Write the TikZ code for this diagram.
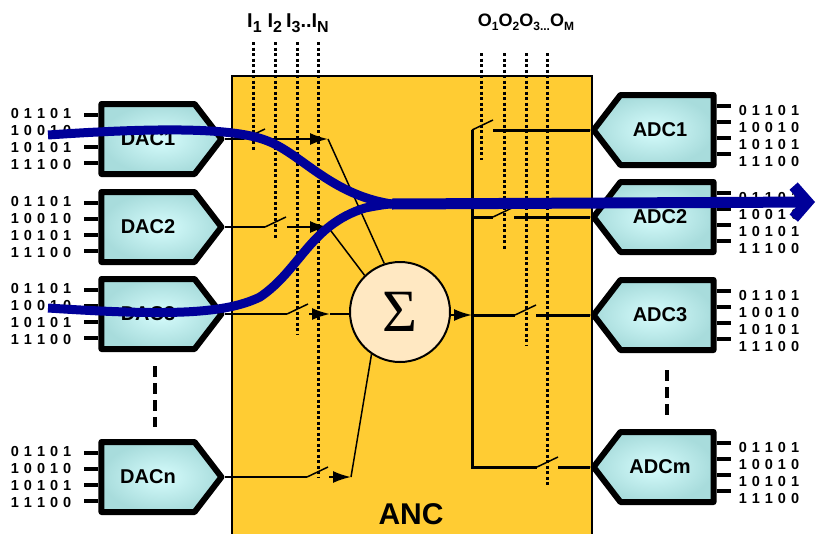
\documentclass[tikz,border=0pt]{standalone}
\usepackage{fontspec}
\setmainfont{Liberation Sans}
\newfontfamily\sigmafont{Liberation Serif}
\usetikzlibrary{calc, positioning}
\usetikzlibrary{shapes.symbols}
\usetikzlibrary{arrows.meta}

\definecolor{ancyellow}{RGB}{255,204,51}
\definecolor{blockcore}{RGB}{214,252,252}
\definecolor{blockedge}{RGB}{168,220,220}
\definecolor{sumfill}{RGB}{255,232,194}
\definecolor{flowblue}{RGB}{0,0,153}

\newcommand{\bitword}[5]{#1\hspace{5pt}#2\hspace{5pt}#3\hspace{5pt}#4\hspace{5pt}#5}
\newcommand{\bitblock}{\bitword01101\\\bitword10010\\\bitword10101\\\bitword11100}
\newcommand{\insub}[1]{\raisebox{-5pt}{\fontsize{16}{16}\selectfont #1}}
\newcommand{\outsub}[1]{\raisebox{-4pt}{\fontsize{12}{12}\selectfont #1}}

\tikzset{
  conv/.style={signal, draw, line width=6pt, line join=round, shade,
    inner color=blockcore, outer color=blockedge,
    minimum width=120pt, minimum height=70pt, signal pointer angle=105,
    inner sep=0pt, font=\fontsize{20}{20}\selectfont\bfseries},
  dac/.style={conv, signal to=east},
  adc/.style={conv, signal to=west},
  bits/.style={align=left, inner sep=0pt, font=\fontsize{14.5}{17}\selectfont\bfseries},
  ancbox/.style={draw, line width=2pt, fill=ancyellow, minimum width=360pt,
    minimum height=470pt, inner sep=0pt},
  wire/.style={line width=2pt},
  buswire/.style={line width=3pt},
  blade/.style={line width=1.5pt},
  feed/.style={line width=1.5pt},
  chan/.style={line width=3pt, dash pattern=on 3pt off 2.5pt},
  gapmark/.style={line width=3.5pt, dash pattern=on 11pt off 6pt},
  tick/.style={line width=3.5pt},
  into/.style={-{Latex[length=18pt,width=12pt]}},
  flow/.style={draw=flowblue, line width=9pt, line join=round},
}

\begin{document}
\begin{tikzpicture}[x=1pt,y=-1pt]
\clip (0,0) rectangle (818,533);

\node[ancbox, anchor=north west] (anc) at (231,75) {};
\node[font=\fontsize{30}{30}\selectfont\bfseries] (anclabel) at (411,514) {ANC};

% control lines
\node[anchor=base, font=\fontsize{20}{20}\selectfont\bfseries] (inputs) at (288,27)
    {I\insub{1}\hspace{6pt}I\insub{2}\hspace{4pt}I\insub{3}..I\insub{N}};
\node[anchor=base, font=\fontsize{18}{18}\selectfont\bfseries] (outputs) at (526,26)
    {O\outsub{1}O\outsub{2}O\outsub{3}\outsub{...}O\outsub{M}};
\foreach \x/\yend in {253/150, 275/238, 297/335, 318/478}
    \draw[chan] (\x,42) -- (\x,\yend);
\foreach \x/\yend in {481/160, 504/250, 526/345, 547/487}
    \draw[chan] (\x,53) -- (\x,\yend);

% converters
\node[dac] (dac1) at (148,139) {DAC1};
\node[dac] (dac2) at (148,227) {DAC2};
\node[dac] (dac3) at (148,314) {DAC3};
\node[dac] (dacn) at (148,477) {DACn};
\node[adc] (adc1) at (667,130) {ADC1\kern14pt};
\node[adc] (adc2) at (667,217) {ADC2\kern14pt};
\node[adc] (adc3) at (667,315) {ADC3\kern14pt};
\node[adc] (adcm) at (667,467) {ADCm\kern14pt};

\foreach \n in {dac1,dac2,dac3,dacn} {
  \node[bits, anchor=east] (bits\n) at ($(\n.west)+(-27,0)$) {\bitblock};
  \foreach \dy in {-24,-8,8,24}
    \draw[tick] ($(\n.west)+(0,\dy)$) -- ++(-14,0);
}
\foreach \n in {adc1,adc2,adc3,adcm} {
  \node[bits, anchor=west] (bits\n) at ($(\n.east)+(22,6)$) {\bitblock};
  \foreach \dy in {-24,-8,8,24}
    \draw[tick] ($(\n.east)+(0,\dy)$) -- ++(14,0);
}
\draw[gapmark] ($(dac3.south)+(7,14)$) -- ($(dacn.north)+(7,-12)$);
\draw[gapmark] ($(adc3.south)+(0,17)$) -- ($(adcm.north)+(0,-13)$);

% summing node
\node[circle, draw, line width=2pt, fill=sumfill, minimum size=100pt, inner sep=0pt,
    font=\fontsize{60}{60}\selectfont\sigmafont] (sum) at (400,312) {Σ};

% input switches
\coordinate (s1) at (244,139);
\coordinate (s2) at (265,227);
\coordinate (s3) at (287,314);
\coordinate (s4) at (307,477);
\coordinate (j1) at (328,139);
\coordinate (j2) at (328,227);
\coordinate (j3) at (330,314);
\coordinate (j4) at (351,477);
\draw[wire] (dac1.east) -- (s1);
\draw[wire] (dac2.east) -- (s2);
\draw[wire] (dac3.east) -- (s3);
\draw[wire] (dacn.east) -- (s4);
\foreach \s in {s1,s2,s3,s4}
  \draw[blade] (\s) -- ++(21,-10);
\draw[wire, into] ($(s1)+(22,0)$) -- (j1);
\draw[wire, into] ($(s2)+(22,0)$) -- (j2);
\draw[wire, into] ($(s3)+(22,0)$) -- (j3);
\draw[wire, into] ($(s4)+(22,0)$) -- (j4);
\draw[feed] (j1) -- (sum.108);
\draw[feed] (j2) -- (sum.134);
\draw[wire] (j3) -- (sum.west |- j3);
\draw[feed] (j4) -- (sum.236);

% output bus and switches
\coordinate (busTop) at (472,130);
\coordinate (o2) at (493,217);
\coordinate (o3) at (515,315);
\coordinate (o4) at (537,467);
\draw[wire, into] (sum.east |- o3) -- (busTop |- o3);
\draw[buswire] (busTop) -- (busTop |- o4) -- (o4);
\draw[buswire] (busTop |- o2) -- (o2);
\draw[buswire] (busTop |- o3) -- (o3);
\foreach \s in {busTop,o2,o3,o4}
  \draw[blade] (\s) -- ++(21,-10);
\draw[buswire] ($(busTop)+(21,0)$) -- (adc1.west);
\draw[buswire] ($(o2)+(21,0)$) -- (adc2.west);
\draw[buswire] ($(o3)+(21,0)$) -- (adc3.west);
\draw[buswire] ($(o4)+(21,0)$) -- (adcm.west);

% signal flow
\coordinate (flowInA) at (48,135);
\coordinate (flowInB) at (48,308);
\coordinate (flowMerge) at (392,204);
\coordinate (flowOut) at (815,202);
\draw[flow] (flowInA) .. controls (150,128) and (230,127) .. (265,140)
    .. controls (300,152) and (330,195) .. (flowMerge);
\draw[flow] (flowInB) .. controls (170,316) and (225,314) .. (260,297)
    .. controls (300,270) and (310,225) .. (365,208)
    .. controls (380,205) and (388,204) .. (flowMerge);
\draw[flow, line width=11pt, -{Straight Barb[length=14pt,width=32pt]}]
    (flowMerge) -- (flowOut);
\end{tikzpicture}
\end{document}
